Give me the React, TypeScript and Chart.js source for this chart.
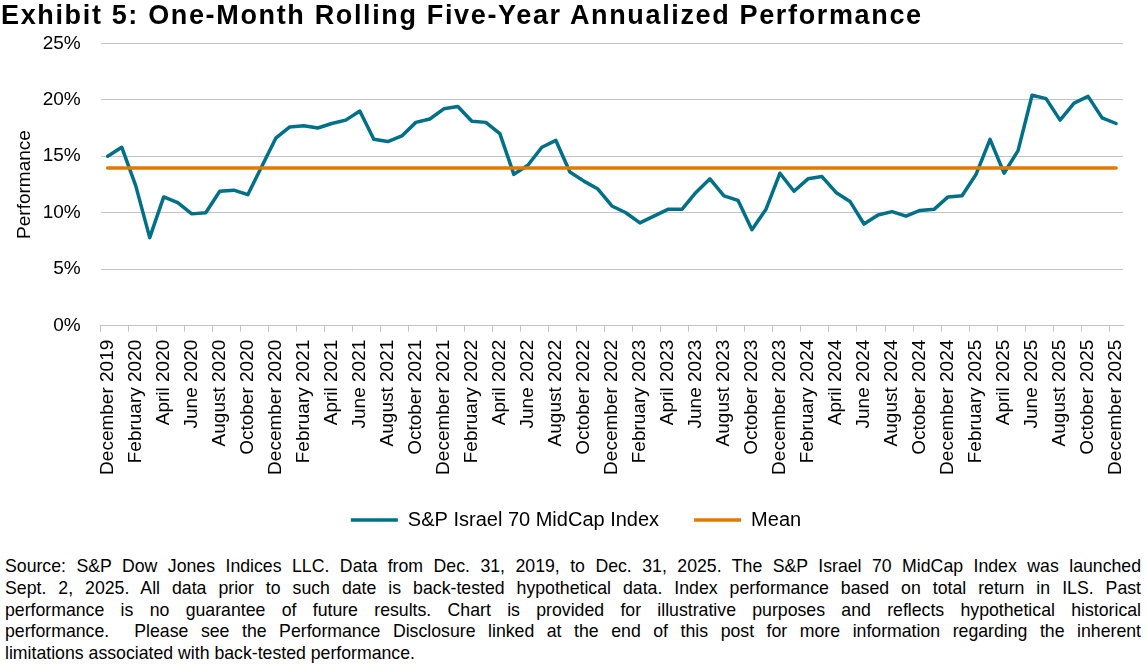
import React, { useEffect, useRef } from "react";
import { Chart, registerables } from "chart.js";

Chart.register(...registerables);

// ---------- data ----------
const MONTH_NAMES = [
  "January", "February", "March", "April", "May", "June",
  "July", "August", "September", "October", "November", "December",
];

// Monthly categories: December 2019 .. December 2025 (73 months)
const categories: string[] = [];
for (let k = 0; k < 73; k++) {
  const m = (11 + k) % 12;
  const y = 2019 + Math.floor((11 + k) / 12);
  categories.push(`${MONTH_NAMES[m]} ${y}`);
}

// One-month rolling five-year annualized performance (%)
const indexPerformance: number[] = [
  15.0, 15.8, 12.4, 7.8, 11.4, 10.9, 9.9, 10.0, 11.9, 12.0,
  11.6, 14.1, 16.6, 17.6, 17.7, 17.5, 17.9, 18.2, 19.0, 16.5,
  16.3, 16.8, 18.0, 18.3, 19.2, 19.4, 18.1, 18.0, 17.0, 13.4,
  14.2, 15.8, 16.4, 13.6, 12.8, 12.1, 10.6, 10.0, 9.1, 9.7,
  10.3, 10.3, 11.8, 13.0, 11.5, 11.1, 8.5, 10.3, 13.5, 11.9,
  13.0, 13.2, 11.8, 11.0, 9.0, 9.8, 10.1, 9.7, 10.2, 10.3,
  11.4, 11.5, 13.4, 16.5, 13.5, 15.5, 20.4, 20.1, 18.2, 19.7,
  20.3, 18.4, 17.9,
];

const meanValue =
  indexPerformance.reduce((a, b) => a + b, 0) / indexPerformance.length;
const meanSeries: number[] = indexPerformance.map(() => meanValue);

const yTicks: number[] = [0, 5, 10, 15, 20, 25];

const seriesNames = ["S&P Israel 70 MidCap Index", "Mean"];

const titleText = "Exhibit 5: One-Month Rolling Five-Year Annualized Performance";
const yAxisTitle = "Performance";

const footnoteLines: string[] = [
  "Source: S&P Dow Jones Indices LLC. Data from Dec. 31, 2019, to Dec. 31, 2025. The S&P Israel 70 MidCap Index was launched",
  "Sept. 2, 2025. All data prior to such date is back-tested hypothetical data. Index performance based on total return in ILS. Past",
  "performance is no guarantee of future results. Chart is provided for illustrative purposes and reflects hypothetical historical",
  "performance.\u00A0 Please see the Performance Disclosure linked at the end of this post for more information regarding the inherent",
  "limitations associated with back-tested performance.",
];

// ---------- styles ----------
const FONT = "'Liberation Sans', Arial, Helvetica, sans-serif";
const TEAL = "#007088";
const ORANGE = "#E07A00";
const GRID = "#c4c4c4";
const TEXT = "#000000";

export default function App() {
  const canvasRef = useRef<HTMLCanvasElement | null>(null);

  useEffect(() => {
    document.body.style.margin = "0";
    const canvas = canvasRef.current;
    if (!canvas) return;

    const chart = new Chart(canvas, {
      type: "line",
      data: {
        labels: categories,
        datasets: [
          {
            label: seriesNames[0],
            data: indexPerformance,
            borderColor: TEAL,
            backgroundColor: TEAL,
            borderWidth: 3.5,
            pointRadius: 0,
            pointHoverRadius: 0,
            tension: 0,
            borderJoinStyle: "round",
            borderCapStyle: "round",
            order: 1,
          },
          {
            label: seriesNames[1],
            data: meanSeries,
            borderColor: ORANGE,
            backgroundColor: ORANGE,
            borderWidth: 3.5,
            pointRadius: 0,
            pointHoverRadius: 0,
            tension: 0,
            borderCapStyle: "round",
            order: 0,
          },
        ],
      },
      options: {
        animation: false,
        responsive: false,
        maintainAspectRatio: false,
        layout: { padding: { top: 43.3, right: 15, left: 20, bottom: 0 } },
        plugins: {
          title: { display: false },
          tooltip: { enabled: false },
          legend: {
            display: true,
            position: "bottom",
            align: "center",
            labels: {
              boxWidth: 47,
              boxHeight: 3.5,
              padding: 35,
              color: TEXT,
              font: { family: FONT, size: 20 },
              sort: (a: any, b: any) => a.datasetIndex - b.datasetIndex,
              generateLabels: (ch: any) =>
                ch.data.datasets.map((ds: any, i: number) => ({
                  text: ds.label,
                  fillStyle: ds.borderColor,
                  strokeStyle: ds.borderColor,
                  lineWidth: 0,
                  hidden: false,
                  datasetIndex: i,
                  fontColor: TEXT,
                })),
            },
          },
        },
        scales: {
          x: {
            type: "category",
            offset: true,
            grid: {
              display: true,
              offset: true,
              drawOnChartArea: false,
              drawTicks: true,
              tickLength: 6,
              color: GRID,
              tickColor: (ctx: any) =>
                typeof ctx.index === "number" && ctx.index % 2 === 0
                  ? GRID
                  : "rgba(0,0,0,0)",
            },
            border: { display: true, color: GRID, width: 1 },
            ticks: {
              autoSkip: false,
              maxRotation: 90,
              minRotation: 90,
              padding: 8,
              color: TEXT,
              font: { family: FONT, size: 19 },
              callback: (_v: any, i: number) => (i % 2 === 0 ? categories[i] : ""),
            },
            afterFit: (scale: any) => {
              scale.height = 149.3;
            },
          },
          y: {
            min: yTicks[0],
            max: yTicks[yTicks.length - 1],
            grid: { color: GRID, drawTicks: false, lineWidth: 1 },
            border: { display: false },
            ticks: {
              stepSize: 5,
              padding: 20,
              color: TEXT,
              font: { family: FONT, size: 19 },
              callback: (v: any) => `${v}%`,
            },
            title: {
              display: true,
              text: yAxisTitle,
              color: TEXT,
              font: { family: FONT, size: 19 },
              padding: { top: -6.9, bottom: 0 },
            },
            afterFit: (scale: any) => {
              scale.width = 80.7;
            },
          },
        },
      },
    });

    return () => {
      chart.destroy();
    };
  }, []);

  return (
    <div
      style={{
        position: "relative",
        width: 1147,
        height: 672,
        overflow: "hidden",
        background: "#ffffff",
        fontFamily: FONT,
        color: TEXT,
      }}
    >
      <canvas
        ref={canvasRef}
        width={1147}
        height={540}
        style={{ position: "absolute", left: 0, top: 0, width: 1147, height: 540 }}
      />
      <div
        style={{
          position: "absolute",
          left: 1,
          top: 0,
          fontSize: 27,
          fontWeight: "bold",
          letterSpacing: "1.65px",
          whiteSpace: "nowrap",
          lineHeight: "normal",
          zIndex: 1,
        }}
      >
        {titleText}
      </div>
      <div
        style={{
          position: "absolute",
          left: 5,
          top: 556.3,
          width: 1136,
          fontSize: 17.7,
          lineHeight: "21.7px",
        }}
      >
        {footnoteLines.map((line, i) => (
          <div
            key={i}
            style={{
              textAlign: "justify",
              textAlignLast: i < footnoteLines.length - 1 ? "justify" : "left",
              whiteSpace: "nowrap",
            }}
          >
            {line}
          </div>
        ))}
      </div>
    </div>
  );
}
